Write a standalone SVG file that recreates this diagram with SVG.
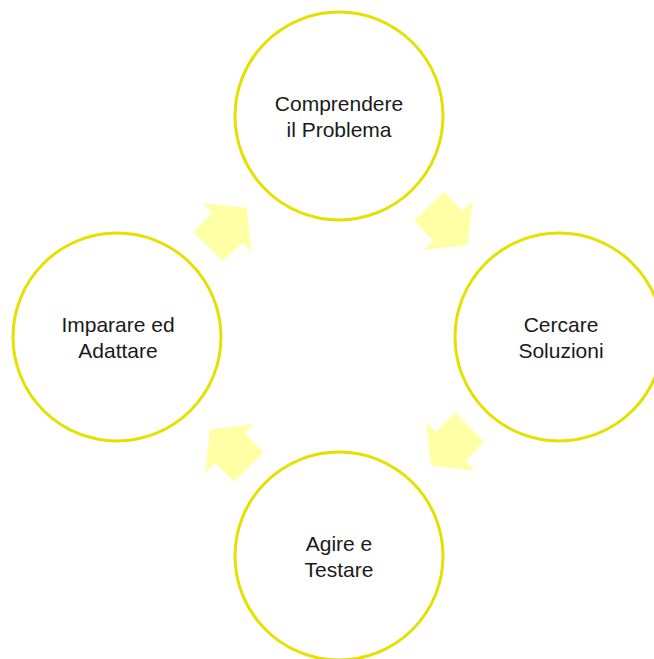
<svg xmlns="http://www.w3.org/2000/svg" width="654" height="659" viewBox="0 0 654 659">
<style>
.node circle{fill:#FFFFFF;stroke:#E6E000;stroke-width:3}
.node text{font-family:"Liberation Sans",Arial,sans-serif;font-size:21px;fill:#1a1a1a;text-anchor:middle}
.arrow{fill:#FFFFA6;stroke:none}
</style>
<rect width="654" height="659" fill="#FFFFFF"/>
<g id="connectors">
<polygon class="arrow" points="443.3,191.7 462.7,210.7 472.7,201 467.7,245 423.3,250 433.3,240.7 414,220.7"/>
<polygon class="arrow" points="455,412.3 484,441.7 466,460.7 475,471 431,465.7 426,422.7 436,431.7"/>
<polygon class="arrow" points="253.3,424 245,432.7 263.3,452.7 234.3,481.7 215,463.3 205,472.7 210,429.3"/>
<polygon class="arrow" points="202.7,203.3 246.7,207.7 251.7,251.7 242.7,242.7 222.7,261 193.3,232.3 212.3,212.7"/>
</g>
<g id="node-comprendere" class="node">
<circle cx="339" cy="116" r="104"/>
<text x="339" y="111">Comprendere</text>
<text x="339" y="137">il Problema</text>
</g>
<g id="node-cercare" class="node">
<circle cx="559" cy="337" r="104"/>
<text x="561" y="332">Cercare</text>
<text x="561" y="358">Soluzioni</text>
</g>
<g id="node-agire" class="node">
<circle cx="339" cy="556" r="104"/>
<text x="339" y="551">Agire e</text>
<text x="339" y="577">Testare</text>
</g>
<g id="node-imparare" class="node">
<circle cx="117" cy="337" r="104"/>
<text x="118" y="332">Imparare ed</text>
<text x="118" y="358">Adattare</text>
</g>
</svg>
